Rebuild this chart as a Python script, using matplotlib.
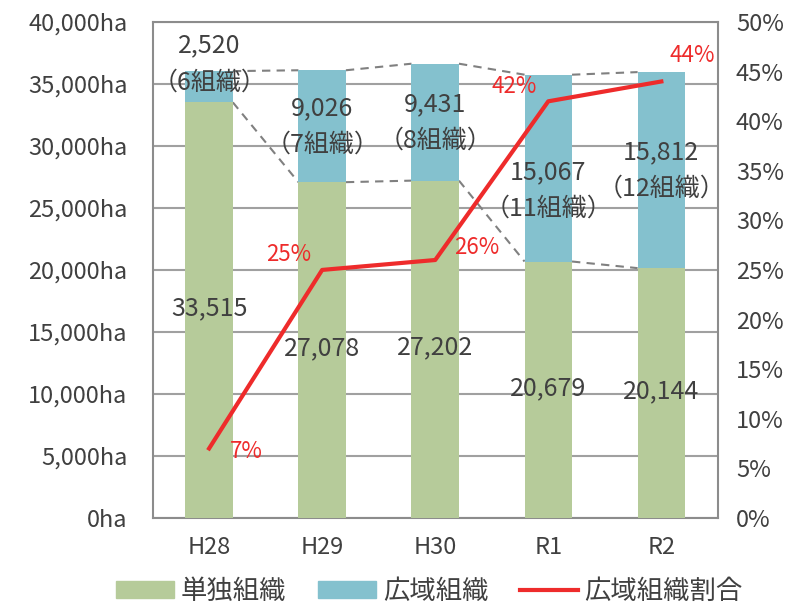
import numpy as np
import matplotlib
matplotlib.use("Agg")
import matplotlib.pyplot as plt
from matplotlib.patches import Patch
from matplotlib.lines import Line2D

plt.rcParams['font.family'] = ['Noto Sans CJK JP', 'DejaVu Sans']

# data
years = ["H28", "H29", "H30", "R1", "R2"]
single = [33515, 27078, 27202, 20679, 20144]
wide = [2520, 9026, 9431, 15067, 15812]
wide_orgs = [6, 7, 8, 11, 12]
ratio = [7, 25, 26, 42, 44]

green = "#B6CB9A"
blue = "#84C1CE"
red = "#EE2B2B"
text_col = "#404040"
grid_col = "#A0A0A0"

fig = plt.figure(figsize=(8.03, 6.10), dpi=100)
ax = fig.add_axes([0.190, 0.151, 0.704, 0.813])

x = np.arange(len(years))
w = 0.42
single = np.array(single)
wide = np.array(wide)
tops = single + wide

ax.bar(x, single, w, color=green, zorder=3)
ax.bar(x, wide, w, bottom=single, color=blue, zorder=3)

# dashed connector lines between bars
for i in range(len(x) - 1):
    ax.plot([x[i] + w / 2, x[i + 1] - w / 2], [tops[i], tops[i + 1]],
            ls=(0, (4, 3)), color="#808080", lw=1.5, zorder=2)
    ax.plot([x[i] + w / 2, x[i + 1] - w / 2], [single[i], single[i + 1]],
            ls=(0, (4, 3)), color="#808080", lw=1.5, zorder=2)

ax.set_ylim(0, 40000)
ax.set_xlim(-0.5, len(x) - 0.5)
ax.set_yticks(np.arange(0, 40001, 5000))
ax.set_yticklabels([f"{v:,}ha" for v in range(0, 40001, 5000)])
ax.set_xticks(x)
ax.set_xticklabels(years)
ax.yaxis.grid(True, color=grid_col, lw=1.5, zorder=0)
ax.set_axisbelow(True)
ax.tick_params(length=0, labelsize=17, colors=text_col, pad=13)
ax.tick_params(axis="y", pad=18)
for s in ax.spines.values():
    s.set_color("#8C8C8C")
    s.set_linewidth(1.5)

# value labels
for i in range(len(x)):
    ax.text(x[i], single[i] / 2 + 150, f"{single[i]:,}", ha="center", va="center",
            fontsize=18, color=text_col, zorder=5)
    ymid = single[i] + wide[i] / 2
    if i == 0:
        ymid = tops[i] + 600
    if i == 3:
        ymid -= 1800
    ax.text(x[i], ymid + 1450, f"{wide[i]:,}", ha="center", va="center",
            fontsize=18, color=text_col, zorder=5)
    ax.text(x[i], ymid - 1500, f"（{wide_orgs[i]}組織）", ha="center", va="center",
            fontsize=18, color=text_col, zorder=5)

ax2 = ax.twinx()
ax2.set_ylim(0, 50)
ax2.set_yticks(np.arange(0, 51, 5))
ax2.set_yticklabels([f"{v}%" for v in range(0, 51, 5)])
ax2.tick_params(length=0, labelsize=17, colors=text_col, pad=13)
for s in ax2.spines.values():
    s.set_visible(False)
ax2.plot(x, ratio, color=red, lw=3, zorder=6)

offs = [(0.33, -0.3), (-0.30, 1.6), (0.37, 1.3), (-0.30, 1.5), (0.27, 2.6)]
for i in range(len(x)):
    ax2.text(x[i] + offs[i][0], ratio[i] + offs[i][1], f"{ratio[i]}%", ha="center",
             va="center", fontsize=16, color=red, zorder=7)

handles = [Patch(color=green), Patch(color=blue), Line2D([], [], color=red, lw=3)]
fig.legend(handles, ["単独組織", "広域組織", "広域組織割合"], loc="lower center",
           bbox_to_anchor=(0.535, -0.030), ncol=3, frameon=False, fontsize=19,
           handlelength=2.2, handleheight=0.6, handletextpad=0.25, columnspacing=1.2,
           labelcolor=text_col)

fig.savefig("out.png", dpi=100)
